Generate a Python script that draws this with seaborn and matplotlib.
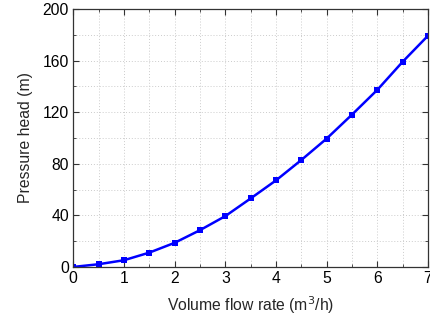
import matplotlib
matplotlib.use("Agg")
import matplotlib.pyplot as plt
import seaborn as sns
import pandas as pd
from matplotlib.ticker import MultipleLocator

flow = [0, 0.5, 1, 1.5, 2, 2.5, 3, 3.5, 4, 4.5, 5, 5.5, 6, 6.5, 7]
head = [0, 2.1, 5.2, 11.1, 18.7, 28.5, 39.4, 53.1, 67.1, 82.9, 99.5, 118.1, 137.3, 159.1, 179.3]
xticks = [0, 1, 2, 3, 4, 5, 6, 7]
yticks = [0, 40, 80, 120, 160, 200]

sns.set_theme(style="white")
plt.rcParams['font.family'] = ['Liberation Sans', 'DejaVu Sans']

df = pd.DataFrame({"flow": flow, "head": head})
fig = plt.figure(figsize=(4.31, 3.22), dpi=100)
ax = fig.add_axes([0.170, 0.171, 0.823, 0.801])
sns.lineplot(data=df, x="flow", y="head", ax=ax, color="#0000ff", linewidth=1.8,
             marker="s", markersize=4, markeredgewidth=0)

ax.set_xlim(0, 7)
ax.set_ylim(0, 200)
ax.set_xticks(xticks)
ax.set_yticks(yticks)
ax.xaxis.set_minor_locator(MultipleLocator(0.5))
ax.yaxis.set_minor_locator(MultipleLocator(20))
ax.grid(True, which="both", color="#cccccc", linestyle=(0, (1, 2)), linewidth=0.7)
ax.tick_params(which="both", direction="in", top=True, right=True, bottom=True, left=True,
               colors="#333333", labelcolor="black", labelsize=11.3)
ax.tick_params(which="major", length=4, width=0.8, pad=3)
ax.tick_params(which="minor", length=2, width=0.6)
for s in ax.spines.values():
    s.set_color("#333333")
    s.set_linewidth(0.9)
ax.set_xlabel("Volume flow rate (m$^3$/h)", fontsize=11.3, labelpad=6)
ax.set_ylabel("Pressure head (m)", fontsize=11.3, labelpad=7)
fig.savefig("out.png", dpi=100)
